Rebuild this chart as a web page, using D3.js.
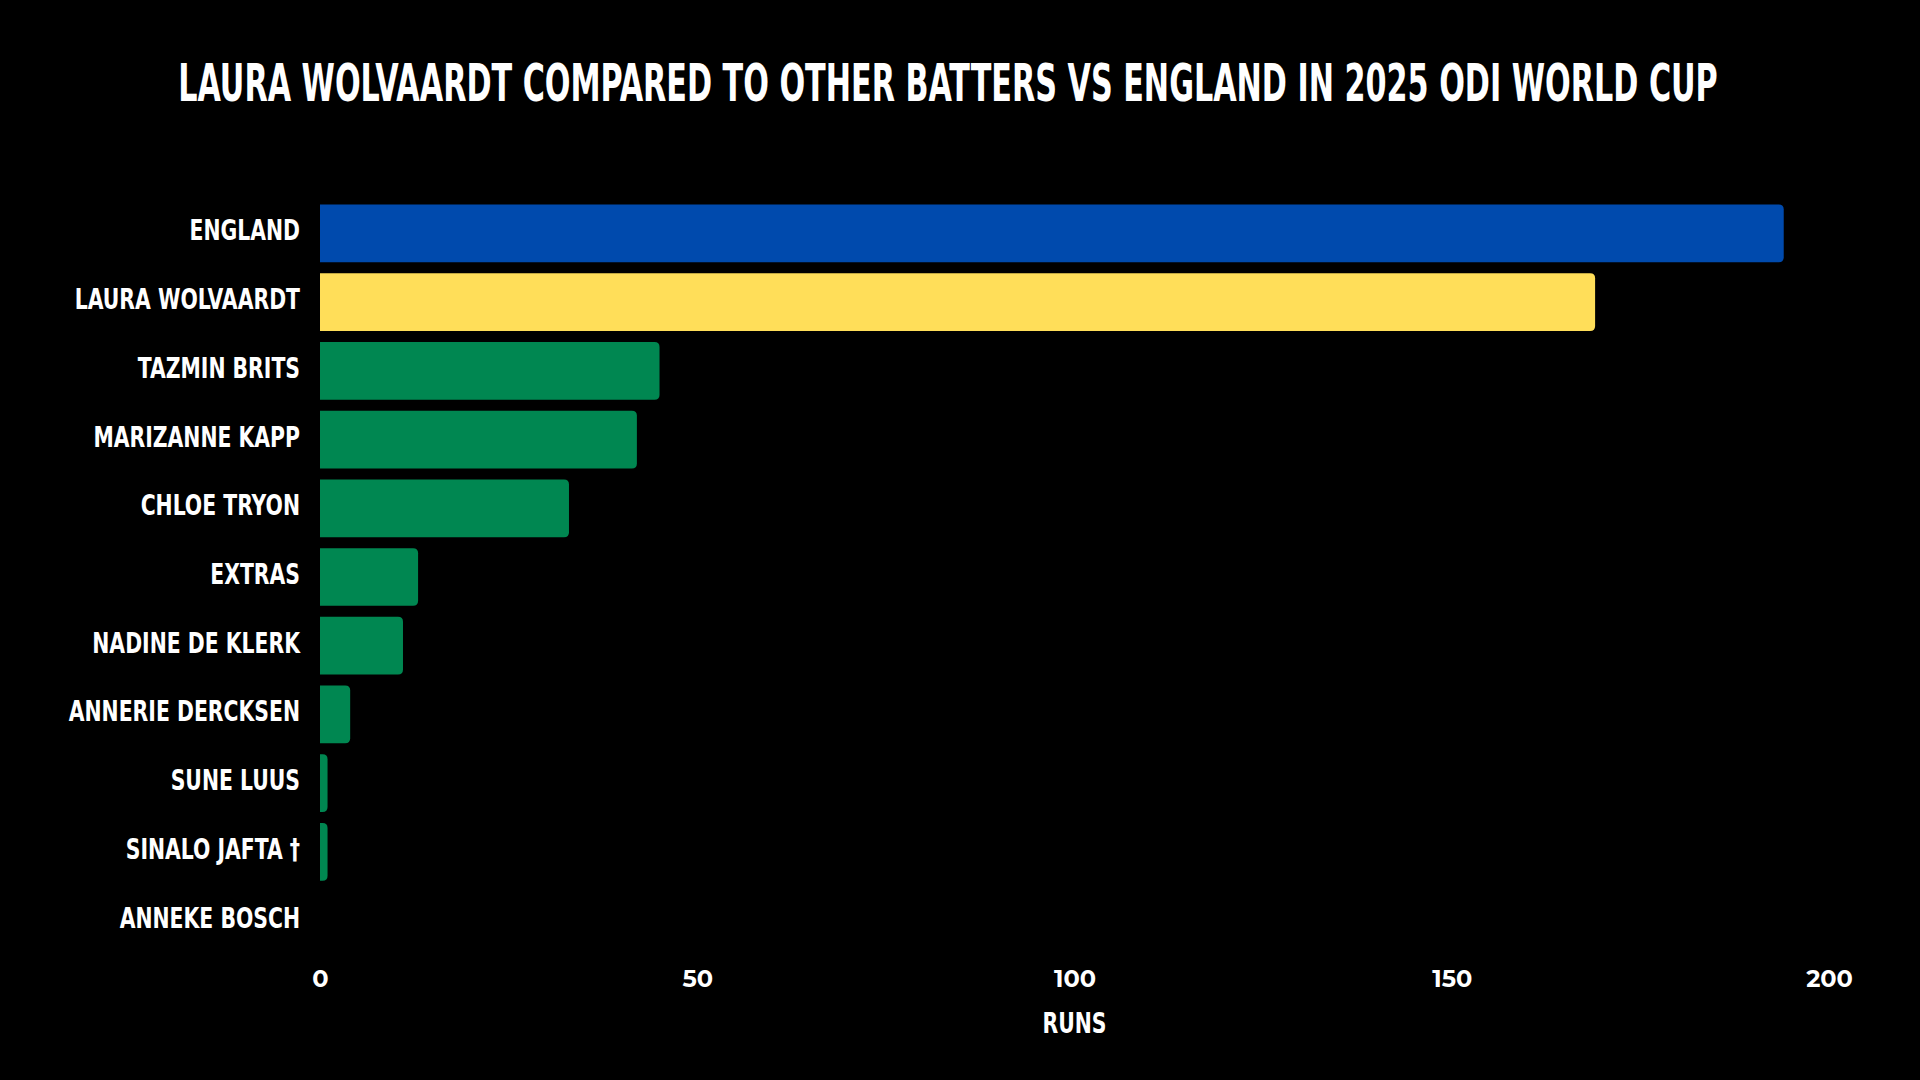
<!DOCTYPE html>
<html>
<head>
<meta charset="utf-8">
<script src="https://cdn.jsdelivr.net/npm/d3@7"></script>
<style>
  html, body { margin: 0; padding: 0; background: #000; }
  svg { display: block; }
  .cond { font-family: "Liberation Sans Narrow", "DejaVu Sans Condensed", "DejaVu Sans", sans-serif; font-stretch: condensed; font-weight: 700; }
  .tick-font { font-family: "Montserrat", "Open Sans", "DejaVu Sans", sans-serif; font-weight: 700; }
</style>
</head>
<body>
<svg id="chart" width="1920" height="1080"></svg>
<script>
const titleText = "LAURA WOLVAARDT COMPARED TO OTHER BATTERS VS ENGLAND IN 2025 ODI WORLD CUP";
const categories = ["ENGLAND", "LAURA WOLVAARDT", "TAZMIN BRITS", "MARIZANNE KAPP", "CHLOE TRYON", "EXTRAS", "NADINE DE KLERK", "ANNERIE DERCKSEN", "SUNE LUUS", "SINALO JAFTA \u2020", "ANNEKE BOSCH"];
const runs = [194, 169, 45, 42, 33, 13, 11, 4, 1, 1, 0];
const barColors = ["#004AAD", "#FFDE59", "#008751", "#008751", "#008751", "#008751", "#008751", "#008751", "#008751", "#008751", "#008751"];
const xTicks = [0, 50, 100, 150, 200];
const xAxisTitle = "RUNS";

const svg = d3.select("#chart");
svg.append("rect").attr("width", 1920).attr("height", 1080).attr("fill", "#000");

const x = d3.scaleLinear().domain([0, 200]).range([320, 1829]);
const y = d3.scaleBand().domain(categories).range([199, 955]).paddingInner(0.16).paddingOuter(0.08);

// Title (horizontally condensed to the reference width)
const title = svg.append("text")
  .attr("class", "cond")
  .attr("x", 0).attr("y", 0)
  .attr("text-anchor", "middle")
  .attr("fill", "#fff")
  .attr("font-size", 52)
  .text(titleText);
const tLen = title.node().getComputedTextLength();
title.attr("transform", `translate(948,101) scale(${1540 / tLen},1)`);

// Bars with right-side rounded corners
const r = 5;
function barPath(v, cat) {
  const x0 = x(0), x1 = x(v), y0 = y(cat), h = y.bandwidth();
  const w = x1 - x0;
  if (w <= 0) return "";
  const rr = Math.min(r, w, h / 2);
  return `M${x0},${y0}H${x1 - rr}Q${x1},${y0} ${x1},${y0 + rr}V${y0 + h - rr}Q${x1},${y0 + h} ${x1 - rr},${y0 + h}H${x0}Z`;
}
svg.append("g").selectAll("path")
  .data(categories)
  .join("path")
  .attr("d", (c, i) => barPath(runs[i], c))
  .attr("fill", (c, i) => barColors[i]);

// Y axis labels
const yAxis = d3.axisLeft(y).tickSize(0).tickPadding(21);
const yg = svg.append("g").attr("transform", `translate(${x(0)},0)`).call(yAxis);
yg.select(".domain").remove();
yg.selectAll("text")
  .attr("class", "cond")
  .attr("fill", "#fff")
  .attr("font-size", 28)
  .attr("x", 0)
  .attr("dy", "0.25em")
  .attr("transform", "translate(-20,0) scale(0.81,1)");

// X axis
const xAxis = d3.axisBottom(x).tickValues(xTicks).tickSize(0).tickPadding(0);
const xg = svg.append("g").attr("transform", `translate(0,970)`).call(xAxis);
xg.select(".domain").remove();
xg.selectAll("text")
  .attr("class", "tick-font")
  .attr("fill", "#fff")
  .attr("font-size", 24)
  .attr("dy", "0.71em");

svg.append("text")
  .attr("class", "cond")
  .attr("x", 0).attr("y", 0)
  .attr("text-anchor", "middle")
  .attr("fill", "#fff")
  .attr("font-size", 28)
  .attr("transform", `translate(${(x(0) + x(200)) / 2},1033) scale(0.81,1)`)
  .text(xAxisTitle);
</script>
</body>
</html>
